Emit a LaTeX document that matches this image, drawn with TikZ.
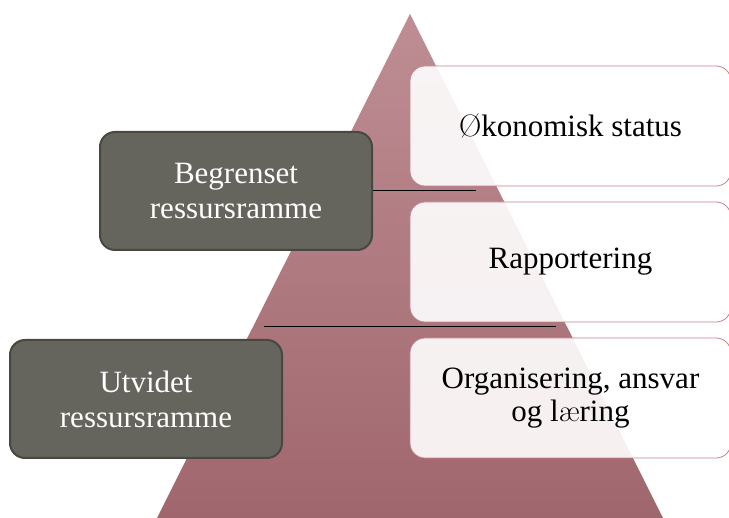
\documentclass[tikz,border=0pt]{standalone}
\usepackage{fontspec}
\newfontfamily\tms{Liberation Serif}
\newcommand{\lmchar}[1]{{\rmfamily #1}}
\definecolor{tritop}{RGB}{190,142,148}
\definecolor{tribot}{RGB}{160,102,109}
\definecolor{wborder}{RGB}{196,130,138}
\definecolor{dfill}{RGB}{101,101,93}
\definecolor{dborder}{RGB}{72,72,66}
\begin{document}
\begin{tikzpicture}[x=1pt,y=-1pt,
  wbox/.style={draw=wborder, line width=0.8pt, fill=white, fill opacity=0.9, text opacity=1,
    rounded corners=15pt, minimum width=321pt, minimum height=120pt, align=center,
    font=\tms\fontsize{31}{33}\selectfont, text=black, inner sep=0pt},
  dbox/.style={draw=dborder, line width=2pt, fill=dfill, rounded corners=15pt,
    minimum width=272pt, minimum height=118pt, align=center,
    font=\tms\fontsize{31}{35}\selectfont, text=white, inner sep=0pt},
  link/.style={draw=black, line width=1pt}]
\useasboundingbox (0,0) rectangle (729,518);
\shade[top color=tritop, bottom color=tribot] (410,14) -- (663,518) -- (157,518) -- cycle;
\node[wbox] (w1) at (570.5,126) {\lmchar{Ø}konomisk status};
\node[wbox] (w2) at (570.5,262) {Rapportering};
\node[wbox] (w3) at (570.5,398) {Organisering, ansvar\\og l\lmchar{æ}ring};
\node[dbox] (d1) at (236,191) {Begrenset\\ressursramme};
\node[dbox] (d2) at (146,399) {Utvidet\\ressursramme};
\coordinate (l1end) at (476,191);
\coordinate (l2start) at (264,327);
\coordinate (l2end) at (556,327);
\draw[link] (d1.east) -- (l1end);
\draw[link] (l2start) -- (l2end);
\end{tikzpicture}
\end{document}
